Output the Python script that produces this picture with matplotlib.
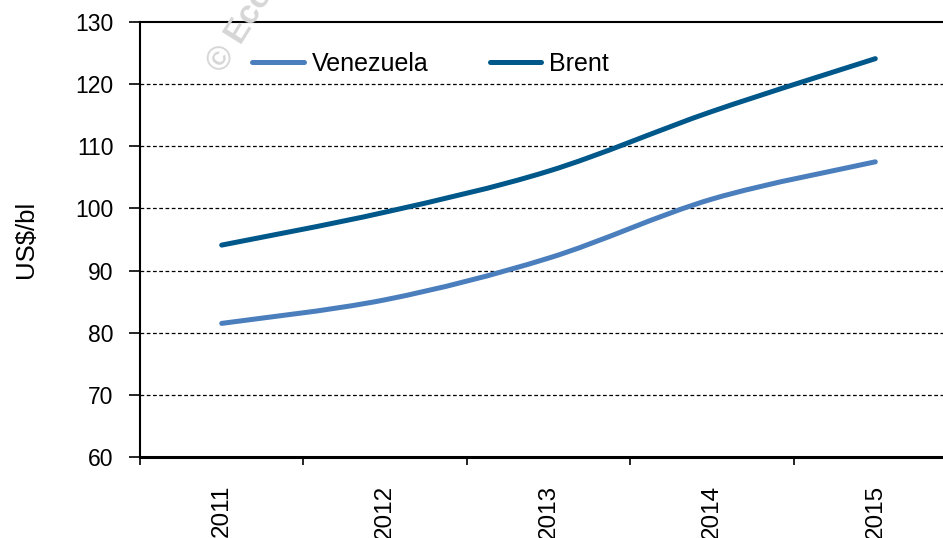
import matplotlib
matplotlib.use("Agg")
import matplotlib.pyplot as plt
from matplotlib.path import Path
from matplotlib.patches import PathPatch
from matplotlib.lines import Line2D
import numpy as np

years = ["2011", "2012", "2013", "2014", "2015"]
venezuela = [81.5, 85.3, 92.0, 101.5, 107.5]
brent = [94.1, 99.4, 106.0, 115.6, 124.1]
y_ticks = [60, 70, 80, 90, 100, 110, 120, 130]

c_ven = "#4A7EBD"
c_brent = "#00578A"

plt.rcParams["font.family"] = ["Liberation Sans", "DejaVu Sans"]

fig = plt.figure(figsize=(9.43, 5.38), dpi=100)
ax = fig.add_axes([140 / 943, 81 / 538, 817 / 943, 435 / 538])

x = np.arange(len(years))


def smooth_path(xs, ys):
    xs = np.asarray(xs, float)
    ys = np.asarray(ys, float)
    n = len(xs)
    verts = [(xs[0], ys[0])]
    codes = [Path.MOVETO]
    for i in range(n - 1):
        i0 = max(i - 1, 0)
        i3 = min(i + 2, n - 1)
        c1 = (xs[i] + (xs[i + 1] - xs[i0]) / 6, ys[i] + (ys[i + 1] - ys[i0]) / 6)
        c2 = (xs[i + 1] - (xs[i3] - xs[i]) / 6, ys[i + 1] - (ys[i3] - ys[i]) / 6)
        verts += [c1, c2, (xs[i + 1], ys[i + 1])]
        codes += [Path.CURVE4, Path.CURVE4, Path.CURVE4]
    return Path(verts, codes)


for vals, col in [(venezuela, c_ven), (brent, c_brent)]:
    patch = PathPatch(smooth_path(x, vals), facecolor="none", edgecolor=col,
                      lw=3.6, capstyle="round", joinstyle="round", zorder=3)
    ax.add_patch(patch)

ax.set_xlim(-0.5, 4.5)
ax.set_ylim(60, 130)
ax.set_yticks(y_ticks)
ax.set_yticklabels([str(v) for v in y_ticks], fontsize=16.5)

for v in y_ticks[1:-1]:
    ax.axhline(v, color="black", lw=0.9, ls=(0, (3, 2)), zorder=1)

ax.set_xticks(np.arange(-0.5, 5.0, 1.0))
ax.set_xticklabels([])
ax.set_xticks(x, minor=True)
ax.set_xticklabels(years, minor=True, rotation=90, fontsize=17.5)
ax.tick_params(axis="x", which="minor", length=0, pad=20)
ax.tick_params(axis="x", which="major", length=6, width=1.2, direction="out")
ax.tick_params(axis="y", length=8, width=1.2, direction="out", pad=11)

for s in ["left", "top", "right"]:
    ax.spines[s].set_linewidth(1.5)
ax.spines["bottom"].set_linewidth(2.2)

ax.set_ylabel("US$/bl", fontsize=18.5, labelpad=27)

handles = [Line2D([], [], color=c_ven, lw=3.6, solid_capstyle="round"),
           Line2D([], [], color=c_brent, lw=3.6, solid_capstyle="round")]
ax.legend(handles, ["Venezuela", "Brent"], loc="upper left", ncol=2,
          frameon=False, fontsize=18, bbox_to_anchor=(0.110, 0.983),
          handlelength=2.05, handletextpad=0.32, columnspacing=2.45)

fig.text(203 / 943, 1 - 78 / 538, "© Economist Intelligence Unit", rotation=58,
         fontsize=24, color="#d6d6d6", fontweight="bold", ha="left", va="bottom",
         zorder=0)

fig.savefig("out.png", dpi=100)
